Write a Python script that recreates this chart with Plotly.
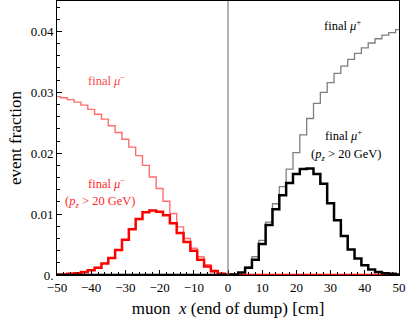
import plotly.graph_objects as go

# bin centres (cm)
x_cm = list(range(-50, 52, 2))

# final mu- (all)
mu_minus_all = [0.0293, 0.0291, 0.0288, 0.0284, 0.0279, 0.0272, 0.0264, 0.0256, 0.0245, 0.0234,
                0.0223, 0.0210, 0.0196, 0.0180, 0.0161, 0.0142, 0.0121, 0.0101, 0.0079, 0.0060,
                0.0044, 0.0030, 0.0017, 0.0008, 0.0003, 0.0001,
                0, 0, 0, 0, 0, 0, 0, 0, 0, 0, 0, 0, 0, 0, 0, 0, 0, 0, 0, 0, 0, 0, 0, 0, 0]
# final mu- with p_z > 20 GeV
mu_minus_pz = [0.0001, 0.0001, 0.0002, 0.0003, 0.0005, 0.0008, 0.0012, 0.0019, 0.0028, 0.0041,
               0.0058, 0.0075, 0.0092, 0.0103, 0.0106, 0.0104, 0.0098, 0.0085, 0.0069, 0.0054,
               0.0040, 0.0025, 0.0014, 0.0006, 0.0002, 0.0001,
               0, 0, 0, 0, 0, 0, 0, 0, 0, 0, 0, 0, 0, 0, 0, 0, 0, 0, 0, 0, 0, 0, 0, 0, 0]
# final mu+ (all)
mu_plus_all = [0, 0, 0, 0, 0, 0, 0, 0, 0, 0, 0, 0, 0, 0, 0, 0, 0, 0, 0, 0, 0, 0, 0, 0, 0,
               0.0000, 0.0001, 0.0004, 0.0013, 0.0030, 0.0057, 0.0087, 0.0117, 0.0145, 0.0174,
               0.0201, 0.0230, 0.0257, 0.0282, 0.0300, 0.0316, 0.0331, 0.0343, 0.0354, 0.0364,
               0.0373, 0.0381, 0.0388, 0.0394, 0.0398, 0.0403]
# final mu+ with p_z > 20 GeV
mu_plus_pz = [0, 0, 0, 0, 0, 0, 0, 0, 0, 0, 0, 0, 0, 0, 0, 0, 0, 0, 0, 0, 0, 0, 0, 0, 0,
              0.0000, 0.0001, 0.0004, 0.0012, 0.0025, 0.0051, 0.0082, 0.0108, 0.0131, 0.0151,
              0.0166, 0.0174, 0.0175, 0.0166, 0.0150, 0.0118, 0.0090, 0.0064, 0.0042, 0.0027,
              0.0016, 0.0009, 0.0005, 0.0003, 0.0002, 0.0001]

x_tickvals = [-50, -40, -30, -20, -10, 0, 10, 20, 30, 40, 50]
y_tickvals = [0, 0.01, 0.02, 0.03, 0.04]
y_ticktext = ["0.", "0.01", "0.02", "0.03", "0.04"]

FONT = "Liberation Serif, DejaVu Serif, serif"

fig = go.Figure()
fig.add_trace(go.Scatter(x=x_cm, y=mu_minus_all, mode="lines", line_shape="hvh",
                         line=dict(color="rgba(255,60,60,0.75)", width=1.4), hoverinfo="skip"))
fig.add_trace(go.Scatter(x=x_cm, y=mu_plus_all, mode="lines", line_shape="hvh",
                         line=dict(color="#7f7f7f", width=1.3), hoverinfo="skip"))
fig.add_trace(go.Scatter(x=x_cm, y=mu_minus_pz, mode="lines", line_shape="hvh",
                         line=dict(color="#ff0000", width=2.5), hoverinfo="skip"))
fig.add_trace(go.Scatter(x=x_cm, y=mu_plus_pz, mode="lines", line_shape="hvh",
                         line=dict(color="#000000", width=2.5), hoverinfo="skip"))

fig.add_vline(x=0, line=dict(color="#666666", width=1))

ann_font = dict(family=FONT, size=12.5)
annots = [
    ("final <i>μ</i><sup>−</sup>", -35.5, 0.0320, "rgb(255,70,70)"),
    ("final <i>μ</i><sup>−</sup>", -35.5, 0.0151, "rgb(255,40,40)"),
    ("(<i>p<sub>z</sub></i> &gt; 20 GeV)", -37.3, 0.0120, "rgb(255,40,40)"),
    ("final <i>μ</i><sup>+</sup>", 33.5, 0.0411, "black"),
    ("final <i>μ</i><sup>+</sup>", 33.8, 0.0230, "black"),
    ("(<i>p<sub>z</sub></i> &gt; 20 GeV)", 34.6, 0.0197, "black"),
]
for t, ax, ay, c in annots:
    fig.add_annotation(x=ax, y=ay, text=t, showarrow=False, xanchor="center", yanchor="middle",
                       font=dict(ann_font, color=c))

fig.update_layout(
    width=407, height=325,
    margin=dict(l=57, r=8, t=1, b=50),
    paper_bgcolor="white", plot_bgcolor="white",
    showlegend=False,
    font=dict(family=FONT, size=13, color="black"),
    xaxis=dict(range=[-50, 50], tickmode="array", tickvals=x_tickvals, automargin=False,
               ticks="inside", ticklen=5, tickwidth=1, tickcolor="black",
               minor=dict(ticks="inside", ticklen=3, dtick=2, tick0=0, tickcolor="black"),
               showline=True, linecolor="black", linewidth=1, mirror=True,
               showgrid=False, zeroline=False,
               tickfont=dict(family=FONT, size=13),
               title=dict(text="muon  <i>x</i> (end of dump) [cm]", font=dict(family=FONT, size=17),
                          standoff=8)),
    yaxis=dict(range=[0, 0.045], tickmode="array", tickvals=y_tickvals, ticktext=y_ticktext,
               automargin=False,
               ticks="inside", ticklen=5, tickwidth=1, tickcolor="black",
               minor=dict(ticks="inside", ticklen=3, dtick=0.002, tick0=0, tickcolor="black"),
               showline=True, linecolor="black", linewidth=1, mirror=True,
               showgrid=False, zeroline=False,
               tickfont=dict(family=FONT, size=13),
               title=dict(text="event fraction", font=dict(family=FONT, size=17), standoff=4)),
)

fig.write_html("out.html", config={"displayModeBar": False},
               post_script="document.body.style.margin='0';document.body.style.overflow='hidden';")
